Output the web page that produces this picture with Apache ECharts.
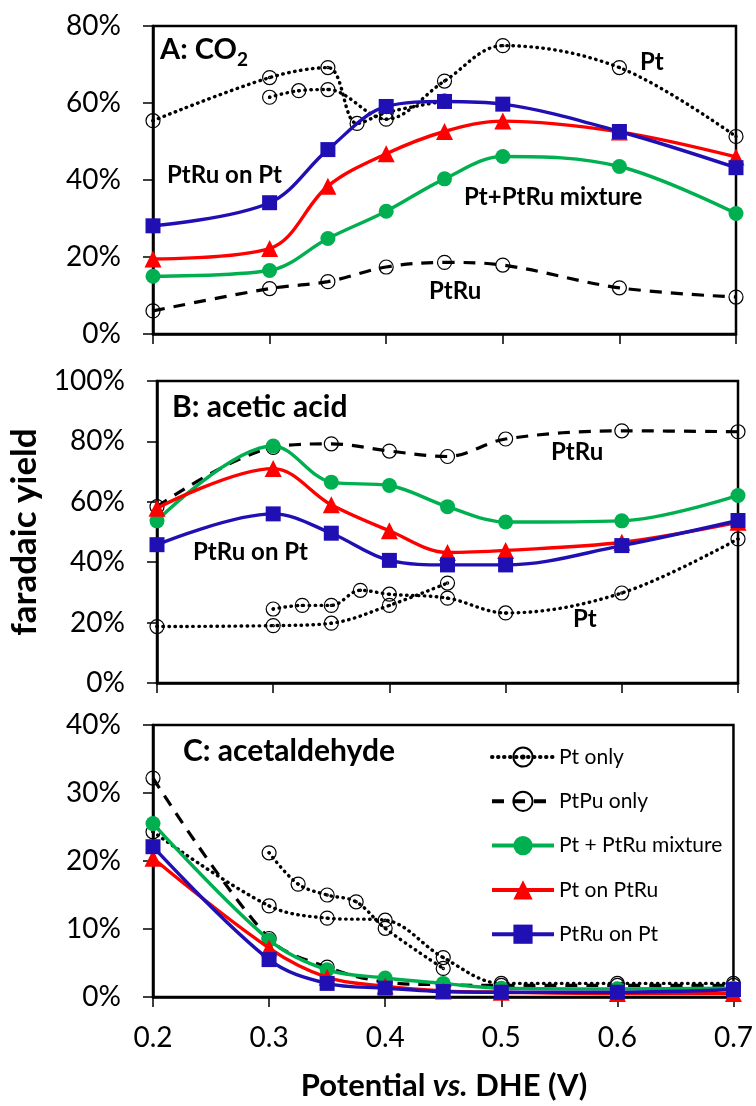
<!DOCTYPE html>
<html>
<head>
<meta charset="utf-8">
<script src="https://cdn.jsdelivr.net/npm/echarts@6/dist/echarts.min.js"></script>
<style>
  html, body { margin: 0; padding: 0; background: #fff; }
  #chart { width: 756px; height: 1106px; }
</style>
</head>
<body>
<div id="chart"></div>
<script>
// ---------------- data ----------------
const potentials = [0.2, 0.3, 0.35, 0.4, 0.45, 0.5, 0.6, 0.7];
const xTicks = [0.2, 0.3, 0.4, 0.5, 0.6, 0.7];
const seriesNames = ['Pt only', 'PtPu only', 'Pt + PtRu mixture', 'Pt on PtRu', 'PtRu on Pt'];

// Panel A: CO2 (%)
const co2Mixture   = [15.0, 16.5, 24.8, 31.9, 40.3, 46.1, 43.5, 31.3];
const co2PtOnPtRu  = [19.5, 22.2, 38.4, 46.8, 52.6, 55.3, 52.5, 46.0];
const co2PtRuOnPt  = [28.1, 34.1, 47.9, 59.1, 60.4, 59.7, 52.6, 43.2];
const co2PtRuOnly  = [6.0, 11.8, 13.6, 17.4, 18.6, 17.9, 12.0, 9.6];
const co2PtRun1X   = [0.2, 0.3, 0.35, 0.375, 0.4, 0.45];
const co2PtRun1Y   = [55.4, 66.6, 69.2, 54.7, 57.5, 60.5];
const co2PtRun2X   = [0.3, 0.325, 0.35, 0.4, 0.45, 0.5, 0.6, 0.7];
const co2PtRun2Y   = [61.5, 63.2, 63.5, 55.8, 65.7, 74.9, 69.2, 51.3];

// Panel B: acetic acid (%)
const acMixture    = [53.7, 78.5, 66.5, 65.4, 58.4, 53.3, 53.7, 62.1];
const acPtOnPtRu   = [57.9, 71.0, 59.0, 50.4, 43.2, 43.9, 46.6, 53.2];
const acPtRuOnPt   = [45.8, 56.0, 49.6, 40.6, 39.1, 39.1, 45.5, 53.8];
const acPtRuOnly   = [58.4, 78.0, 79.2, 76.8, 75.0, 80.8, 83.5, 83.2];
const acPtRun1X    = [0.2, 0.3, 0.35, 0.4, 0.45];
const acPtRun1Y    = [18.7, 19.0, 19.8, 25.7, 33.1];
const acPtRun2X    = [0.3, 0.325, 0.35, 0.375, 0.4, 0.45, 0.5, 0.6, 0.7];
const acPtRun2Y    = [24.5, 25.7, 25.7, 30.7, 29.4, 28.1, 23.2, 29.8, 47.7];

// Panel C: acetaldehyde (%)
const adMixture    = [25.5, 8.4, 4.0, 2.8, 2.0, 1.3, 1.2, 1.3];
const adPtOnPtRu   = [20.4, 7.2, 2.9, 1.6, 0.9, 0.7, 0.5, 0.5];
const adPtRuOnPt   = [22.1, 5.5, 2.0, 1.3, 0.8, 0.7, 0.7, 1.1];
const adPtRuOnly   = [32.2, 8.6, 4.4, 2.2, 1.8, 1.7, 1.7, 1.7];
const adPtRun1X    = [0.2, 0.3, 0.35, 0.4, 0.45, 0.5, 0.6, 0.7];
const adPtRun1Y    = [24.3, 13.4, 11.6, 11.3, 5.8, 2.0, 2.0, 2.0];
const adPtRun2X    = [0.3, 0.325, 0.35, 0.375, 0.4, 0.45];
const adPtRun2Y    = [21.2, 16.6, 15.0, 14.0, 10.1, 4.2];

const yMax = [80, 100, 40];
const yStep = [20, 20, 10];
const panelTitles = ['A: CO', 'B: acetic acid', 'C: acetaldehyde'];

// ---------------- styling ----------------
const FONT = 'Lato, "Open Sans", "Noto Sans", sans-serif';
const GREEN = '#00b050', RED = '#ff0000', BLUE = '#2010b4';
const grids = [
  { left: 153, top: 26,  width: 583, height: 308 },
  { left: 157, top: 381, width: 581, height: 302 },
  { left: 153, top: 725, width: 583, height: 272 }
];
const ptSymbol = 'path://M10,0A10,10,0,1,1,9.99,0ZM10,8.4A1.6,1.6,0,1,1,9.99,8.4Z';

function pairs(xs, ys) { return xs.map((x, i) => [x, ys[i]]); }

function ptSeries(idx, xs, ys) {
  return {
    name: seriesNames[0], type: 'line', xAxisIndex: idx, yAxisIndex: idx,
    data: pairs(xs, ys), smooth: 0.35, z: 2,
    symbol: ptSymbol, symbolSize: 14,
    lineStyle: { color: '#000', width: 3.4, type: [0.5, 5.5], cap: 'round' },
    itemStyle: { color: 'rgba(255,255,255,0)', borderColor: '#000', borderWidth: 1.2 }
  };
}
function ptRuSeries(idx, ys) {
  return {
    name: seriesNames[1], type: 'line', xAxisIndex: idx, yAxisIndex: idx,
    data: pairs(potentials, ys), smooth: 0.35, z: 3,
    symbol: 'circle', symbolSize: 14,
    lineStyle: { color: '#000', width: 3.2, type: [12, 9] },
    itemStyle: { color: 'rgba(255,255,255,0)', borderColor: '#000', borderWidth: 1.2 }
  };
}
function colSeries(idx, nameIdx, ys, color, symbol, size, z) {
  return {
    name: seriesNames[nameIdx], type: 'line', xAxisIndex: idx, yAxisIndex: idx,
    data: pairs(potentials, ys), smooth: 0.35, z: z,
    symbol: symbol, symbolSize: size,
    lineStyle: { color: color, width: 3.4 },
    itemStyle: { color: color }
  };
}
const panelData = [
  { pt: [[co2PtRun1X, co2PtRun1Y], [co2PtRun2X, co2PtRun2Y]], ptru: co2PtRuOnly, mix: co2Mixture, ptOn: co2PtOnPtRu, ptruOn: co2PtRuOnPt },
  { pt: [[acPtRun1X, acPtRun1Y], [acPtRun2X, acPtRun2Y]], ptru: acPtRuOnly, mix: acMixture, ptOn: acPtOnPtRu, ptruOn: acPtRuOnPt },
  { pt: [[adPtRun1X, adPtRun1Y], [adPtRun2X, adPtRun2Y]], ptru: adPtRuOnly, mix: adMixture, ptOn: adPtOnPtRu, ptruOn: adPtRuOnPt }
];

const series = [];
panelData.forEach((p, i) => {
  p.pt.forEach(r => series.push(ptSeries(i, r[0], r[1])));
  series.push(ptRuSeries(i, p.ptru));
  series.push(colSeries(i, 2, p.mix, GREEN, 'circle', 15, 4));
  series.push(colSeries(i, 3, p.ptOn, RED, 'triangle', 17, 5));
  series.push(colSeries(i, 4, p.ptruOn, BLUE, 'rect', 15, 6));
});

const xAxes = grids.map((g, i) => ({
  type: 'value', gridIndex: i, min: 0.2, max: 0.7, interval: 0.1,
  axisLine: { show: true, onZero: false, lineStyle: { color: '#000', width: 2.5 } },
  axisTick: { show: true, inside: false, length: 10, lineStyle: { color: '#000', width: 1.5 } },
  splitLine: { show: false },
  axisLabel: { show: i === 2, margin: 27, color: '#000', fontSize: 28, fontFamily: FONT,
    formatter: v => v.toFixed(1) }
}));
const yAxes = grids.map((g, i) => ({
  type: 'value', gridIndex: i, min: 0, max: yMax[i], interval: yStep[i],
  axisLine: { show: true, lineStyle: { color: '#000', width: 2.5 } },
  axisTick: { show: true, inside: false, length: 10, lineStyle: { color: '#000', width: 1.5 } },
  splitLine: { show: false },
  axisLabel: { margin: 32, color: '#000', fontSize: 28, fontFamily: FONT, formatter: '{value}%' }
}));

function txt(x, y, text, size, opts) {
  return Object.assign({
    type: 'text', x: x, y: y, z: 100,
    style: Object.assign({ text: text, fill: '#000', font: 'bold ' + size + 'px ' + FONT,
      align: 'left', verticalAlign: 'middle' }, opts || {})
  });
}

const graphics = [
  txt(160, 50, panelTitles[0], 29),
  txt(237, 60, '2', 19),
  txt(640, 62, 'Pt', 24),
  txt(167, 175, 'PtRu on Pt', 24),
  txt(464, 197, 'Pt+PtRu mixture', 24),
  txt(429, 291, 'PtRu', 24),
  txt(172, 407, panelTitles[1], 30),
  txt(551, 452, 'PtRu', 24),
  txt(193, 552, 'PtRu on Pt', 24),
  txt(573, 619, 'Pt', 24),
  txt(183, 751, panelTitles[2], 30),
  {
    type: 'text', x: 25, y: 532, rotation: Math.PI / 2, z: 100,
    style: { text: 'faradaic yield', fill: '#000', font: 'bold 35px ' + FONT, align: 'center', verticalAlign: 'middle' }
  },
  {
    type: 'text', x: 444, y: 1086, z: 100,
    style: {
      text: '{a|Potential }{i|vs.}{a| DHE (V)}', align: 'center', verticalAlign: 'middle',
      rich: {
        a: { fontFamily: FONT, fontWeight: 'bold', fontSize: 31, fill: '#000', color: '#000' },
        i: { fontFamily: FONT, fontWeight: 'bold', fontStyle: 'italic', fontSize: 31, fill: '#000', color: '#000' }
      }
    }
  }
];

const chart = echarts.init(document.getElementById('chart'), null, { renderer: 'canvas' });
chart.setOption({
  animation: false,
  backgroundColor: '#fff',
  textStyle: { fontFamily: FONT },
  grid: grids.map(g => Object.assign({ show: true, borderColor: '#000', borderWidth: 2.5, backgroundColor: 'transparent' }, g)),
  xAxis: xAxes,
  yAxis: yAxes,
  legend: {
    data: seriesNames, orient: 'vertical', left: 485, top: 740,
    itemWidth: 62, itemHeight: 24, itemGap: 20.3,
    lineStyle: { width: 4 },
    textStyle: { color: '#000', fontSize: 21, fontFamily: FONT, lineHeight: 24 },
    selectedMode: false
  },
  series: series,
  graphic: graphics
});
</script>
</body>
</html>
